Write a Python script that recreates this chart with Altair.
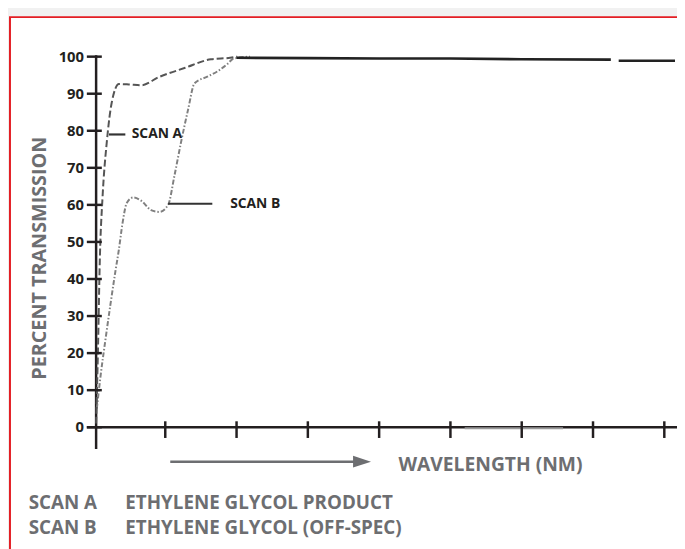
import altair as alt
import pandas as pd

# ---- data (x in wavelength tick units, y in percent transmission) ----
scan_a_x = [0.03, 0.055, 0.083, 0.12, 0.18, 0.25, 0.35, 0.49, 0.67, 0.90, 1.28, 1.64, 1.91, 2.01]
scan_a_y = [1, 20, 45.9, 62, 77, 87.7, 92.6, 92.5, 92.3, 94.4, 97, 99.3, 99.7, 100]

scan_b_x = [0.04, 0.093, 0.16, 0.23, 0.30, 0.35, 0.40, 0.46, 0.55, 0.67, 0.80, 0.92, 1.04,
            1.13, 1.22, 1.32, 1.41, 1.59, 1.73, 1.87, 1.96, 2.19]
scan_b_y = [5, 13.9, 23.5, 33, 42, 48, 55, 60.5, 62, 61, 58.6, 58.1, 60,
            68, 76.8, 85.7, 92.8, 94.6, 96, 98, 99.5, 100]

top_x = [2.0, 3.0, 4.0, 5.0, 6.0, 7.25, 7.36, 8.15]
top_y = [99.7, 99.6, 99.5, 99.5, 99.3, 99.2, 98.9, 98.9]
top_seg = [0, 0, 0, 0, 0, 0, 1, 1]

faint_x = [5.2, 6.58]
faint_y = [-0.3, -0.3]

y_ticks = [0, 10, 20, 30, 40, 50, 60, 70, 80, 90, 100]
y_tick_labels = ["0", "10", "20", "30", "40", "50", "60", "70", "80", "90", "100"]
x_ticks = [1, 2, 3, 4, 5, 6, 7, 8]

X_MAX = 8.178
W, H = 590, 375

xs = alt.Scale(domain=[0, X_MAX], nice=False, zero=False)
ys = alt.Scale(domain=[0, 100], nice=False, zero=False)

DARK = "#231f20"
GRAY = "#6d6e71"
FONT = "Open Sans"


def X(f="x"):
    return alt.X(f"{f}:Q", scale=xs, axis=None)


def Y(f="y"):
    return alt.Y(f"{f}:Q", scale=ys, axis=None)


frame = alt.Chart(pd.DataFrame({"a": [0]})).mark_rect(
    fill="white", stroke="#e31e24", strokeWidth=2, clip=False
).encode(x=alt.value(-85), y=alt.value(-40), x2=alt.value(700), y2=alt.value(600))

df_a = pd.DataFrame({"x": scan_a_x, "y": scan_a_y})
df_b = pd.DataFrame({"x": scan_b_x, "y": scan_b_y})
df_top = pd.DataFrame({"x": top_x, "y": top_y, "s": top_seg})
df_faint = pd.DataFrame({"x": faint_x, "y": faint_y})

line_a = alt.Chart(df_a).mark_line(
    color="#555555", strokeWidth=2, strokeDash=[7, 3], interpolate="monotone", clip=False
).encode(x=X(), y=Y())

line_b = alt.Chart(df_b).mark_line(
    color="#808080", strokeWidth=2, strokeDash=[5, 2, 1.5, 2], interpolate="monotone", clip=False
).encode(x=X(), y=Y())

line_top = alt.Chart(df_top).mark_line(
    color="#222222", strokeWidth=2.6, clip=False
).encode(x=X(), y=Y(), detail="s:N")

line_faint = alt.Chart(df_faint).mark_line(
    color="#9a9a9a", strokeWidth=2, clip=False
).encode(x=X(), y=Y())

# axis lines
axes_df = pd.DataFrame({
    "x": [0.03, -0.1], "x2": [0.03, X_MAX],
    "y": [100.4, 0], "y2": [-5.9, 0],
})
axis_lines = alt.Chart(axes_df).mark_rule(color=DARK, strokeWidth=2.5, clip=False).encode(
    x=X(), x2="x2:Q", y=Y(), y2="y2:Q")

ytick_df = pd.DataFrame({"y": y_ticks, "x": [-0.1] * len(y_ticks), "x2": [0.11] * len(y_ticks),
                         "lx": [-0.139] * len(y_ticks), "t": y_tick_labels})
ytick_rules = alt.Chart(ytick_df).mark_rule(color=DARK, strokeWidth=2.5, clip=False).encode(
    x=X(), x2="x2:Q", y=Y())
ytick_text = alt.Chart(ytick_df).mark_text(
    font=FONT, fontSize=15, fontWeight="bold", color=DARK, align="right", baseline="middle", clip=False
).encode(x=X("lx"), y=Y(), text="t:N")

xtick_df = pd.DataFrame({"x": x_ticks, "y": [1.6] * len(x_ticks), "y2": [-2.9] * len(x_ticks)})
xtick_rules = alt.Chart(xtick_df).mark_rule(color=DARK, strokeWidth=2.5, clip=False).encode(
    x=X(), y=Y(), y2="y2:Q")

# leader lines for annotations
lead_df = pd.DataFrame({"x": [0.21, 1.04], "x2": [0.44, 1.66], "y": [79, 60.3]})
leaders = alt.Chart(lead_df).mark_rule(color="#333333", strokeWidth=2.2, clip=False).encode(
    x=X(), x2="x2:Q", y=Y())

ann_df = pd.DataFrame({"x": [0.53, 1.91], "y": [79, 60.3], "t": ["SCAN A", "SCAN B"]})
ann = alt.Chart(ann_df).mark_text(
    font=FONT, fontSize=14, fontWeight="bold", color=DARK, align="left", baseline="middle", clip=False
).encode(x=X(), y=Y(), text="t:N")

# y title
ytitle = alt.Chart(pd.DataFrame({"x": [-0.76], "y": [45.6], "t": ["PERCENT TRANSMISSION"]})).mark_text(
    font=FONT, fontSize=20, fontWeight="bold", color=GRAY, angle=270, align="center", baseline="middle", clip=False
).encode(x=X(), y=Y(), text="t:N")

# arrow
arrow_line = alt.Chart(pd.DataFrame({"x": [1.07], "x2": [3.66], "y": [-9.3]})).mark_rule(
    color=GRAY, strokeWidth=2.5, clip=False
).encode(x=X(), x2="x2:Q", y=Y())
arrow_head = alt.Chart(pd.DataFrame({"x": [3.76], "y": [-9.3]})).mark_point(
    shape="M-1,-0.65L1,0L-1,0.65Z", filled=True, color=GRAY, opacity=1, size=330, clip=False
).encode(x=X(), y=Y())

xtitle = alt.Chart(pd.DataFrame({"x": [4.27], "y": [-10.2], "t": ["WAVELENGTH (NM)"]})).mark_text(
    font=FONT, fontSize=19.5, fontWeight="bold", color=GRAY, align="left", baseline="middle", clip=False
).encode(x=X(), y=Y(), text="t:N")

# bottom legend text
leg_keys = ["SCAN A", "SCAN B"]
leg_desc = ["ETHYLENE GLYCOL PRODUCT", "ETHYLENE GLYCOL (OFF-SPEC)"]
leg_y = [-20.5, -27.3]
leg_df = pd.DataFrame({
    "x": [-0.915, -0.915, 0.44, 0.44],
    "y": leg_y + leg_y,
    "t": leg_keys + leg_desc,
})
legend_text = alt.Chart(leg_df).mark_text(
    font=FONT, fontSize=19, fontWeight="bold", color=GRAY, align="left", baseline="middle", clip=False
).encode(x=X(), y=Y(), text="t:N")

chart = alt.layer(
    frame, axis_lines, line_faint, line_b, line_a, line_top, ytick_rules, ytick_text, xtick_rules,
    leaders, ann, ytitle, arrow_line, arrow_head, xtitle, legend_text
).properties(
    width=W, height=H,
    autosize=alt.AutoSizeParams(type="none"),
    padding={"left": 87, "top": 46, "right": 0, "bottom": 120},
    background="#f1f1f1",
).configure_view(stroke=None)

chart.save("out.html", embed_options={"renderer": "svg", "actions": False})
